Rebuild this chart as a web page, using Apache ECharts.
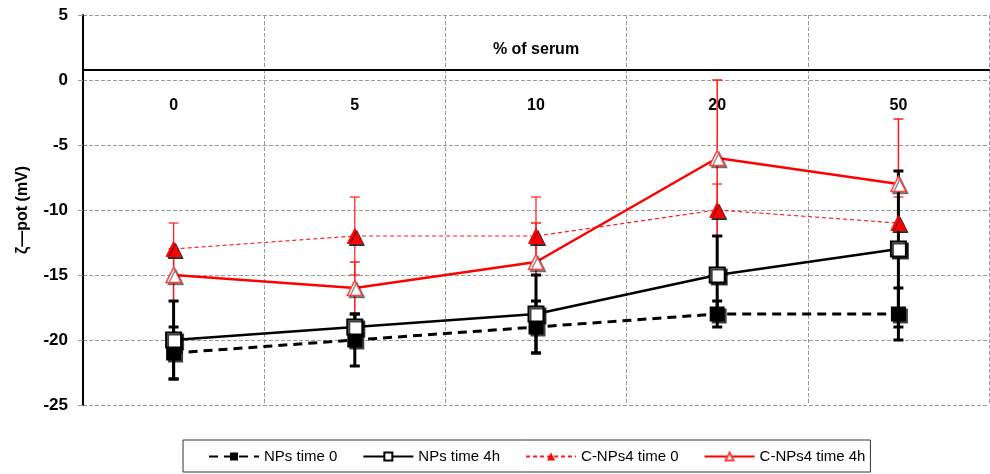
<!DOCTYPE html>
<html>
<head>
<meta charset="utf-8">
<script src="https://cdn.jsdelivr.net/npm/echarts@6/dist/echarts.min.js"></script>
<style>
  html, body { margin: 0; padding: 0; background: #ffffff; }
  #chart { width: 990px; height: 474px; }
</style>
</head>
<body>
<div id="chart"></div>
<script>
// % of serum
const categories = ["0", "5", "10", "20", "50"];

// zeta potential (mV) and error bars
const npsTime0 = [-21, -20, -19, -18, -18];
const npsTime0Err = [2, 2, 2, 1, 2];
const npsTime4h = [-20, -19, -18, -15, -13];
const npsTime4hErr = [3, 1, 3, 3, 6];
const cnpsTime0 = [-13, -12, -12, -10, -11];
const cnpsTime0Err = [2, 3, 3, 2, 2];
const cnpsTime4h = [-15, -16, -14, -6, -8];
const cnpsTime4hErr = [2, 2, 3, 6, 5];

const yTicks = [5, 0, -5, -10, -15, -20, -25];

let myChart = echarts.init(document.getElementById("chart"));

// error bar series (custom)
function errorBars(name, values, errs, color, width) {
  return {
    name: name + " err",
    type: "custom",
    z: 1,
    silent: true,
    data: values.map((v, i) => [i, v - errs[i], v + errs[i]]),
    renderItem: function (params, api) {
      let lo = api.coord([api.value(0), api.value(1)]);
      let hi = api.coord([api.value(0), api.value(2)]);
      let cap = 5;
      let style = { stroke: color, lineWidth: width };
      return {
        type: "group",
        children: [
          { type: "line", shape: { x1: lo[0], y1: lo[1], x2: hi[0], y2: hi[1] }, style: style },
          { type: "line", shape: { x1: lo[0] - cap, y1: lo[1], x2: lo[0] + cap, y2: lo[1] }, style: style },
          { type: "line", shape: { x1: hi[0] - cap, y1: hi[1], x2: hi[0] + cap, y2: hi[1] }, style: style },
        ],
      };
    },
  };
}

// marker drop shadow
const shade = { shadowBlur: 0, shadowOffsetX: 2, shadowOffsetY: 2, shadowColor: "rgba(0,0,0,0.75)" };

let options = {
  animation: false,
  textStyle: { fontFamily: "Liberation Sans, Arial, sans-serif" },
  grid: { left: 83, right: 1, top: 15, bottom: 69 },
  legend: {
    top: 440,
    left: 183,
    padding: [9, 5, 8, 25],
    borderColor: "#333",
    borderWidth: 1,
    itemWidth: 50,
    itemHeight: 10,
    itemGap: 25,
    textStyle: { fontSize: 15, color: "#000" },
    data: ["NPs time 0", "NPs time 4h", "C-NPs4 time 0", "C-NPs4 time 4h"],
  },
  xAxis: {
    type: "category",
    data: categories,
    position: "top",
    offset: -55,
    name: "% of serum",
    nameLocation: "middle",
    nameGap: 12,
    nameTextStyle: { fontSize: 16, fontWeight: "bold", color: "#000" },
    axisLine: { onZero: false, lineStyle: { color: "#000", width: 2 } },
    axisTick: { show: false },
    axisLabel: {
      inside: true,
      margin: 28,
      fontSize: 16,
      fontWeight: "bold",
      color: "#000",
    },
    splitLine: {
      show: true,
      lineStyle: { color: "#999", type: "dashed", width: 1 },
    },
  },
  yAxis: {
    type: "value",
    min: -25,
    max: 5,
    interval: 5,
    name: "ζ\u2014pot (mV)",
    nameLocation: "middle",
    nameGap: 52,
    nameTextStyle: { fontSize: 16, fontWeight: "bold", color: "#000" },
    axisLine: { show: true, lineStyle: { color: "#000", width: 2 } },
    axisTick: { show: true, length: 5, lineStyle: { color: "#999" } },
    axisLabel: {
      fontSize: 17,
      fontWeight: "bold",
      color: "#000",
      margin: 15,
      formatter: (v) => (yTicks.includes(v) ? String(v) : ""),
    },
    splitLine: {
      show: true,
      lineStyle: { color: "#999", type: "dashed", width: 1 },
    },
  },
  series: [
    errorBars("C-NPs4 time 0", cnpsTime0, cnpsTime0Err, "#ff1a1a", 1.2),
    errorBars("C-NPs4 time 4h", cnpsTime4h, cnpsTime4hErr, "#ff1a1a", 1.5),
    errorBars("NPs time 0", npsTime0, npsTime0Err, "#000", 3),
    errorBars("NPs time 4h", npsTime4h, npsTime4hErr, "#000", 3),
    {
      name: "NPs time 0",
      type: "line",
      z: 3,
      data: npsTime0,
      symbol: "rect",
      symbolSize: 15,
      itemStyle: Object.assign({ color: "#000" }, shade),
      lineStyle: { color: "#000", width: 3, type: [9, 6] },
    },
    {
      name: "NPs time 4h",
      type: "line",
      z: 3,
      data: npsTime4h,
      symbol: "rect",
      symbolSize: 15,
      itemStyle: Object.assign({ color: "#fff", borderColor: "#000", borderWidth: 2 }, shade),
      lineStyle: { color: "#000", width: 2.5 },
    },
    {
      name: "C-NPs4 time 0",
      type: "line",
      z: 4,
      data: cnpsTime0,
      symbol: "triangle",
      symbolSize: 15,
      itemStyle: Object.assign({ color: "#ff0000", borderColor: "#ff0000" }, shade),
      lineStyle: { color: "#ff1a1a", width: 1.2, type: [4, 3] },
    },
    {
      name: "C-NPs4 time 4h",
      type: "line",
      z: 4,
      data: cnpsTime4h,
      symbol: "triangle",
      symbolSize: 15,
      itemStyle: Object.assign({ color: "#fff", borderColor: "#ff4040", borderWidth: 1.5 }, shade, { shadowColor: "rgba(0,0,0,0.45)" }),
      lineStyle: { color: "#ff0000", width: 2.5 },
    },
  ],
};

myChart.setOption(options);
</script>
</body>
</html>
